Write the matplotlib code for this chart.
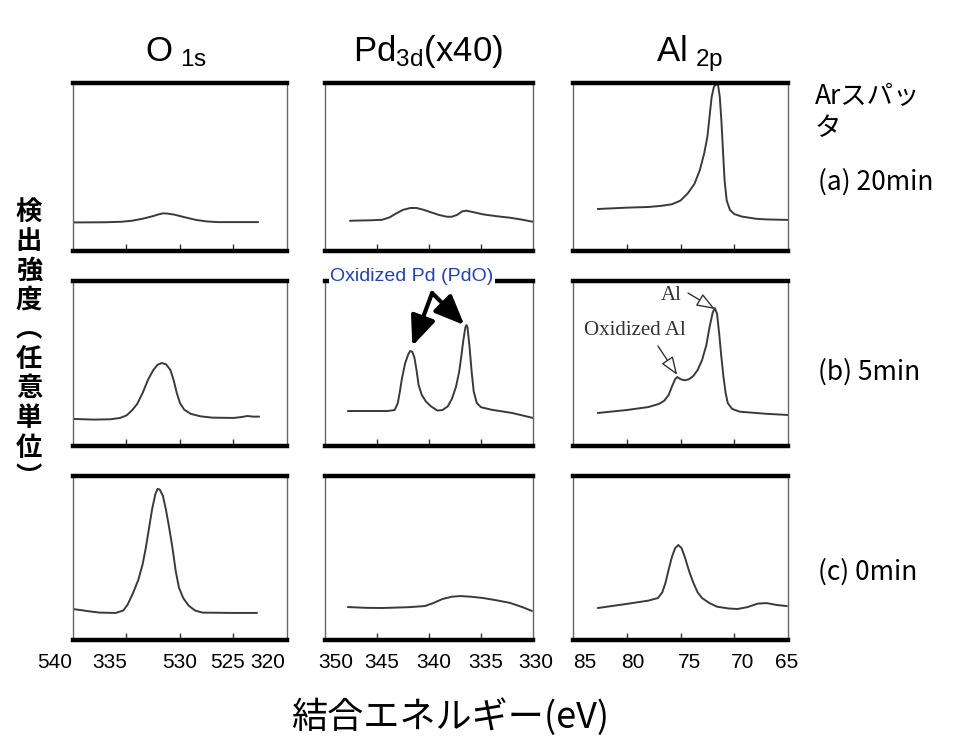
import numpy as np
import matplotlib.pyplot as plt

plt.rcParams['font.family'] = ['Liberation Sans', 'Noto Sans CJK JP', 'DejaVu Sans']

W, H = 958, 741

# --- spectra (binding energy eV, intensity in panel fraction) ---
o1s_a_ev = [540, 537, 535.5, 534.5, 533.5, 532.5, 532, 531.6, 531.2, 530.5, 529.5, 528.5, 527.5, 526.5, 525, 522.7]
o1s_a_int = [0.170, 0.171, 0.174, 0.180, 0.192, 0.208, 0.218, 0.224, 0.223, 0.216, 0.200, 0.185, 0.176, 0.172, 0.172, 0.172]
o1s_b_ev = [540, 538, 536.5, 535.6, 535, 534.5, 534, 533.5, 533, 532.5, 532.1, 531.7, 531.3, 530.9, 530.6,
            530.3, 530, 529.6, 529, 528.1, 527, 525, 524.2, 523.7, 523.2, 522.6]
o1s_b_int = [0.164, 0.160, 0.162, 0.170, 0.185, 0.215, 0.255, 0.320, 0.400, 0.460, 0.492, 0.503, 0.495, 0.461, 0.400,
             0.321, 0.260, 0.220, 0.195, 0.180, 0.172, 0.170, 0.176, 0.182, 0.178, 0.178]
o1s_c_ev = [540, 538.5, 537.5, 536, 535.3, 534.9, 534.4, 533.9, 533.5, 533.2, 532.9, 532.6, 532.3, 532.1, 531.9,
            531.6, 531.3, 531.0, 530.7, 530.4, 530.1, 529.7, 529.2, 528.6, 527.9, 525, 522.8]
o1s_c_int = [0.189, 0.175, 0.167, 0.165, 0.180, 0.215, 0.285, 0.366, 0.460, 0.560, 0.680, 0.800, 0.890, 0.921, 0.918,
             0.880, 0.790, 0.680, 0.560, 0.420, 0.320, 0.256, 0.210, 0.180, 0.167, 0.165, 0.165]

pd_a_ev = [347.6, 345.5, 344.5, 343.8, 343.2, 342.5, 341.8, 341.2, 340.5, 339.8, 339.0, 338.3, 337.8, 337.3,
           336.8, 336.4, 335.5, 334.8, 333.5, 332.2, 331, 330]
pd_a_int = [0.180, 0.183, 0.186, 0.200, 0.222, 0.245, 0.256, 0.256, 0.245, 0.230, 0.214, 0.204, 0.204, 0.215,
            0.236, 0.240, 0.228, 0.218, 0.207, 0.198, 0.186, 0.174]
pd_b_ev = [347.8, 344, 343.3, 343.0, 342.8, 342.6, 342.3, 342.0, 341.8, 341.6, 341.4, 341.2, 341.0, 340.7, 340.3,
           339.8, 339.2, 338.7, 338.2, 337.8, 337.4, 337.1, 336.9, 336.7, 336.5, 336.4, 336.3, 336.1, 335.9,
           335.7, 335.4, 335.0, 334, 332, 330]
pd_b_int = [0.212, 0.212, 0.218, 0.260, 0.330, 0.410, 0.500, 0.555, 0.576, 0.570, 0.535, 0.460, 0.370, 0.310, 0.270,
            0.240, 0.215, 0.218, 0.240, 0.285, 0.360, 0.450, 0.540, 0.640, 0.720, 0.733, 0.720, 0.600, 0.450,
            0.330, 0.260, 0.235, 0.220, 0.200, 0.170]
pd_c_ev = [347.8, 346, 344.5, 342, 340.4, 339.6, 338.7, 337.8, 337.0, 336, 334.8, 333.5, 332.2, 331, 330.1]
pd_c_int = [0.201, 0.196, 0.195, 0.200, 0.207, 0.225, 0.250, 0.264, 0.268, 0.264, 0.256, 0.242, 0.226, 0.200, 0.177]

al_a_ev = [82.7, 80, 78, 76.9, 75.8, 75.0, 74.3, 73.7, 73.2, 72.8, 72.5, 72.3, 72.1, 71.9, 71.7, 71.5, 71.35,
           71.2, 71.05, 70.9, 70.7, 70.4, 70.0, 69.3, 68, 67, 65]
al_a_int = [0.250, 0.258, 0.262, 0.268, 0.278, 0.300, 0.345, 0.400, 0.482, 0.580, 0.679, 0.800, 0.917, 0.975, 0.995,
            0.985, 0.920, 0.780, 0.600, 0.420, 0.300, 0.244, 0.220, 0.205, 0.192, 0.188, 0.185]
al_b_ev = [82.7, 80, 78, 77, 76.5, 76.1, 75.8, 75.5, 75.3, 75.0, 74.6, 74.2, 73.8, 73.4, 73.0, 72.6, 72.3, 72.0,
           71.8, 71.6, 71.4, 71.2, 71.0, 70.8, 70.6, 70.2, 69.5, 67, 65]
al_b_int = [0.200, 0.218, 0.236, 0.255, 0.275, 0.310, 0.360, 0.405, 0.418, 0.405, 0.398, 0.405, 0.425, 0.461, 0.520,
            0.610, 0.720, 0.810, 0.836, 0.800, 0.680, 0.540, 0.418, 0.320, 0.260, 0.225, 0.208, 0.195, 0.188]
al_c_ev = [82.7, 80, 78, 77.1, 76.7, 76.4, 76.1, 75.8, 75.5, 75.2, 74.9, 74.6, 74.2, 73.8, 73.4, 73.0, 72.3, 71.6,
           70.5, 69.7, 68.8, 67.8, 67, 66, 65.1]
al_c_int = [0.195, 0.220, 0.240, 0.256, 0.290, 0.348, 0.430, 0.506, 0.560, 0.579, 0.560, 0.506, 0.420, 0.348, 0.290,
            0.256, 0.225, 0.203, 0.192, 0.189, 0.200, 0.222, 0.225, 0.213, 0.207]

titles = [r'$\mathregular{O_{\ 1s}}$', r'$\mathregular{Pd_{3d}}$(x40)', r'$\mathregular{Al_{\ 2p}}$']
x_ranges = [(540, 520), (350, 330), (85, 65)]
tick_pos = [[535, 530, 525], [345, 340, 335], [80, 75, 70]]
tick_labels = [["540", "335", "530", "525", "320"],
               ["350", "345", "340", "335", "330"],
               ["85", "80", "75", "70", "65"]]
row_labels = ["(a) 20min", "(b) 5min", "(c) 0min"]

spectra = [
    [(o1s_a_ev, o1s_a_int), (pd_a_ev, pd_a_int), (al_a_ev, al_a_int)],
    [(o1s_b_ev, o1s_b_int), (pd_b_ev, pd_b_int), (al_b_ev, al_b_int)],
    [(o1s_c_ev, o1s_c_int), (pd_c_ev, pd_c_int), (al_c_ev, al_c_int)],
]

# layout in pixels
col_px = [(73, 287), (325, 533), (573, 788)]
row_px = [(83, 251), (281, 446), (476, 640)]
label_frac = [[-0.084, 0.173, 0.50, 0.724, 0.911],
              [0.053, 0.274, 0.524, 0.774, 1.014],
              [0.056, 0.279, 0.544, 0.79, 0.995]]

fig = plt.figure(figsize=(W / 100, H / 100), dpi=100)

axes = [[None] * 3 for _ in range(3)]
for r, (yt, yb) in enumerate(row_px):
    for c, (xl, xr) in enumerate(col_px):
        ax = fig.add_axes([xl / W, 1 - yb / H, (xr - xl) / W, (yb - yt) / H])
        ev, inten = spectra[r][c]
        ax.plot(ev, inten, color='#3a3a3a', lw=1.4, solid_capstyle='round', solid_joinstyle='round')
        ax.set_xlim(*x_ranges[c])
        ax.set_ylim(0, 1)
        ax.set_xticks(tick_pos[c])
        ax.set_xticklabels([])
        ax.set_yticks([])
        ax.tick_params(axis='x', direction='in', length=5, width=1, color='#333333')
        for s in ['top', 'bottom']:
            ax.spines[s].set_linewidth(3.2)
            ax.spines[s].set_color('black')
        for s in ['left', 'right']:
            ax.spines[s].set_linewidth(1.0)
            ax.spines[s].set_color('#666666')
        axes[r][c] = ax
        if r == 2:
            for lab, fx in zip(tick_labels[c], label_frac[c]):
                ax.text(fx, -0.14, lab, transform=ax.transAxes, ha='center', va='center', fontsize=15)

# column titles
title_x = [176, 428, 690]
for t, x in zip(titles, title_x):
    fig.text(x / W, 1 - 61 / H, t, ha='center', va='baseline', fontsize=25)

# row labels on the right
cjk = ['Noto Sans CJK JP', 'DejaVu Sans']
fig.text(815 / W, 1 - 97 / H, "Arスパッ", ha='left', va='center', fontsize=19, family=cjk)
fig.text(815 / W, 1 - 129 / H, "タ", ha='left', va='center', fontsize=19, family=cjk)
for lab, y in zip(row_labels, [182, 372, 572]):
    fig.text(818 / W, 1 - y / H, lab, ha='left', va='center', fontsize=19, family=cjk)

# vertical y label
ylabel_chars = "検出強度︵任意単位︶"
for i, ch in enumerate(ylabel_chars):
    fig.text(29 / W, 1 - (212 + i * 29.5) / H, ch, ha='center', va='center',
             fontsize=19, fontweight='bold', family=cjk)

# x label
fig.text(450 / W, 1 - 717 / H, "結合エネルギー(eV)", ha='center', va='center', fontsize=26, family=cjk)

# annotations: Pd 3d
ax = axes[1][1]
ax.text(0.416, 1.03, "Oxidized Pd (PdO)", transform=ax.transAxes, ha='center', va='center',
        fontsize=14, color='#1f3fd0', zorder=5,
        bbox=dict(facecolor='white', edgecolor='none', pad=1.0))
for tip in [(341.6, 0.606), (336.6, 0.733)]:
    ax.annotate('', xy=tip, xytext=(339.7, 0.927),
                arrowprops=dict(arrowstyle='-|>,head_length=0.9,head_width=0.38',
                                mutation_scale=20, lw=3, color='black', shrinkA=0, shrinkB=0))

# annotations: Al 2p
ax = axes[1][2]
ax.text(0.456, 0.915, "Al", transform=ax.transAxes, ha='center', va='center',
        fontsize=15, family='Liberation Serif', color='#333333')
ax.text(0.288, 0.697, "Oxidized Al", transform=ax.transAxes, ha='center', va='center',
        fontsize=15, family='Liberation Serif', color='#333333')
for start, tip in [((74.3, 0.927), (71.8, 0.83)), ((77.1, 0.606), (75.3, 0.43))]:
    ax.annotate('', xy=tip, xytext=start,
                arrowprops=dict(arrowstyle='-|>,head_length=0.8,head_width=0.3',
                                mutation_scale=14, lw=1.0, ec='#333333', fc='white',
                                shrinkA=0, shrinkB=0))

fig.savefig('out.png', dpi=100)
